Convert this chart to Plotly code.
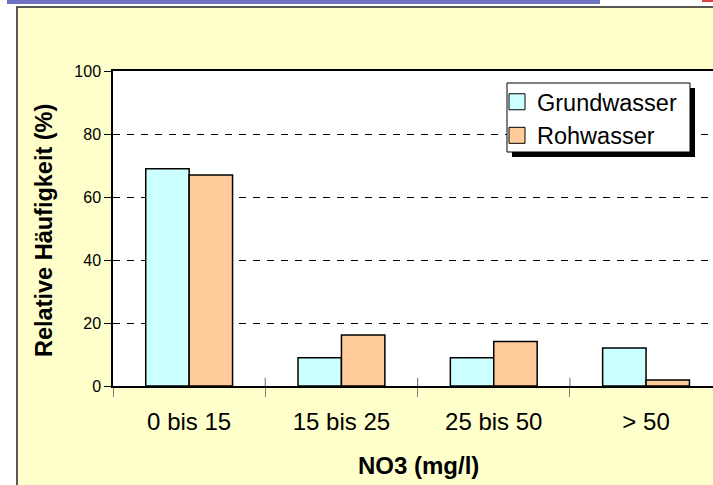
import plotly.graph_objects as go

# ---- data ----
categories = ["0 bis 15", "15 bis 25", "25 bis 50", "> 50"]
grundwasser = [69, 9, 9, 12.1]
rohwasser = [67, 16.2, 14.1, 1.9]
series_names = ["Grundwasser", "Rohwasser"]
series_colors = ["#CCFFFF", "#FFCC99"]
y_ticks = [0, 20, 40, 60, 80, 100]

W, H = 713, 485
L, R, T, B = 113, 0, 71, 99
PW, PH = W - L - R, H - T - B
CAT_W = 152.3  # pixel width of one category band


def px(x):
    return (x - L) / PW


def py(y):
    return (H - B - y) / PH


FONT = "Liberation Sans, Arial, sans-serif"
BIG = 24

fig = go.Figure()
for name, vals, col in zip(series_names, [grundwasser, rohwasser], series_colors):
    fig.add_trace(go.Bar(x=categories, y=vals, name=name, showlegend=False,
                         marker=dict(color=col, line=dict(color="black", width=1.5))))
# legend-only entries with bigger square swatches
for name, col in zip(series_names, series_colors):
    fig.add_trace(go.Scatter(x=[None], y=[None], mode="markers", name=name,
                             marker=dict(symbol="square", size=16, color=col,
                                         line=dict(color="black", width=1))))

shapes = [
    # yellow chart area with border
    dict(type="rect", xref="paper", yref="paper", x0=px(17), x1=px(W + 20), y0=py(H + 20), y1=py(7),
         fillcolor="#FFFFCC", line=dict(color="#222222", width=1.5), layer="below"),
    # white plot area
    dict(type="rect", xref="paper", yref="paper", x0=0, x1=1, y0=0, y1=1,
         fillcolor="white", line=dict(width=0), layer="below"),
    # blue band on top
    dict(type="rect", xref="paper", yref="paper", x0=px(7), x1=px(600), y0=py(4), y1=py(0),
         fillcolor="#6F6FC4", line=dict(width=0), layer="below"),
    # red mark top right
    dict(type="rect", xref="paper", yref="paper", x0=px(702), x1=px(W), y0=py(2), y1=py(0),
         fillcolor="#E04040", line=dict(width=0), layer="below"),
    # legend shadow
    dict(type="rect", xref="paper", yref="paper", x0=px(512), x1=px(695), y0=py(157), y1=py(88),
         fillcolor="black", line=dict(width=0), layer="above"),
    # legend box
    dict(type="rect", xref="paper", yref="paper", x0=px(507), x1=px(690), y0=py(152), y1=py(83),
         fillcolor="white", line=dict(color="black", width=1), layer="above"),
]
# inner part of x tick marks at category boundaries
for i in range(1, len(categories)):
    shapes.append(dict(type="line", xref="x", yref="y", x0=i - 0.5, x1=i - 0.5, y0=0, y1=2.6,
                       line=dict(color="#808080", width=1.2), layer="above"))

annotations = [
    dict(text="<b>NO3 (mg/l)</b>", xref="paper", yref="paper", x=px(418), y=py(465),
         showarrow=False, font=dict(size=BIG, color="black", family=FONT), xanchor="center", yanchor="middle"),
    dict(text="<b>Relative Häufigkeit (%)</b>", xref="paper", yref="paper", x=px(44), y=py(231),
         showarrow=False, textangle=-90, font=dict(size=BIG - 0.5, color="black", family=FONT),
         xanchor="center", yanchor="middle"),
]

fig.update_layout(
    width=W, height=H,
    margin=dict(l=L, r=R, t=T, b=B, pad=0),
    paper_bgcolor="white",
    plot_bgcolor="white",
    font=dict(family=FONT, color="black"),
    barmode="group",
    bargap=0.43,
    bargroupgap=0,
    showlegend=True,
    legend=dict(x=px(497), y=py(80), xanchor="left", yanchor="top",
                bgcolor="rgba(0,0,0,0)", borderwidth=0,
                font=dict(size=BIG - 0.5, family=FONT, color="black"),
                tracegroupgap=0, itemwidth=30, itemsizing="trace"),
    shapes=shapes,
    annotations=annotations,
)

fig.update_xaxes(
    type="category",
    range=[-0.5, -0.5 + PW / CAT_W],
    showline=True, linecolor="black", linewidth=1.5, mirror=True,
    ticks="outside", tickson="boundaries", ticklen=9, tickcolor="#808080", tickwidth=1.2,
    tickfont=dict(size=BIG, family=FONT, color="black"),
    ticklabelstandoff=13,
    showgrid=False,
)
fig.update_yaxes(
    range=[0, 100],
    tickvals=y_ticks,
    showline=True, linecolor="black", linewidth=1.5,
    ticks="outside", ticklen=7, tickcolor="black", tickwidth=1,
    tickfont=dict(size=16, family=FONT, color="black"),
    ticklabelstandoff=0,
    showgrid=True, gridcolor="black", gridwidth=1, griddash="7px,7px",
    zeroline=False,
)

fig.write_html("out.html", config={"displayModeBar": False},
               post_script="document.body.style.margin='0px';")
